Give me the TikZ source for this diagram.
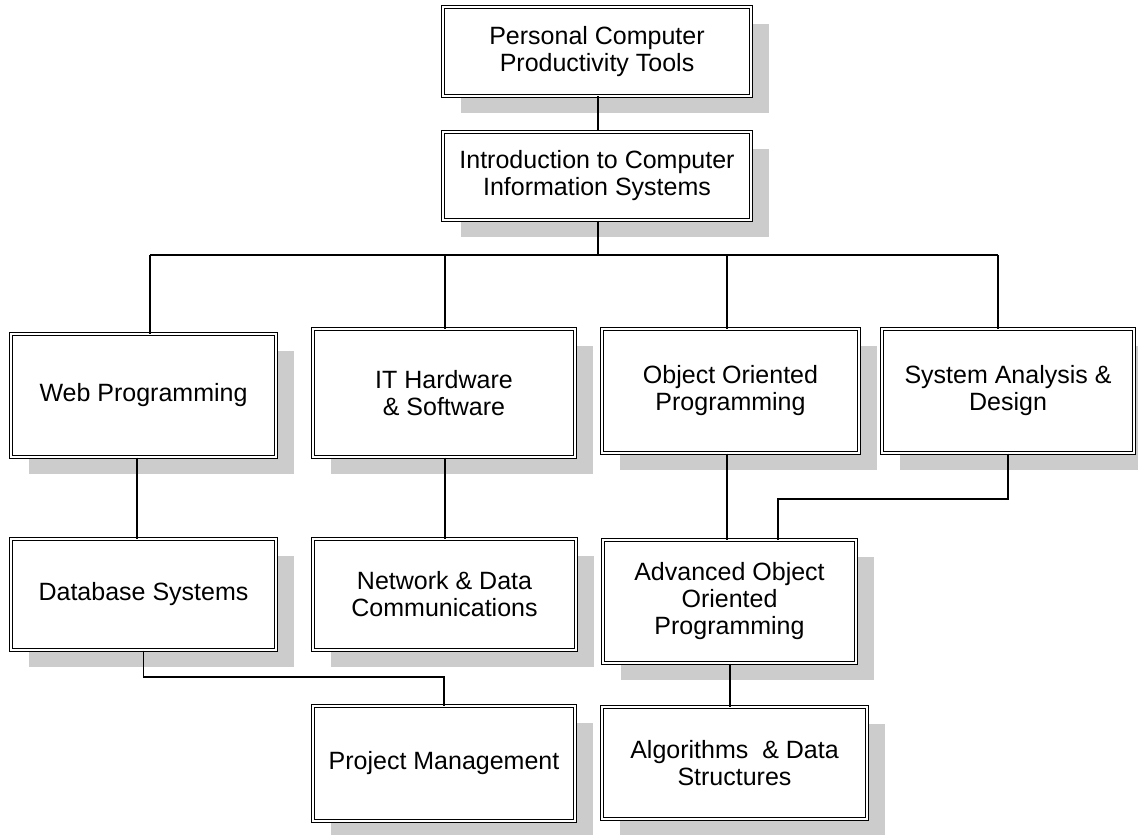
\documentclass[tikz,border=0pt]{standalone}
\usepackage{fontspec}
\setmainfont{Liberation Sans}
\usetikzlibrary{shadows,calc}
\definecolor{shadowgray}{RGB}{204,204,204}
\tikzset{
  course/.style={draw=black, line width=0.5pt, double=white, double distance=1pt,
    fill=white, inner sep=0pt, align=center,
    font=\fontsize{12.5pt}{13.5pt}\selectfont,
    drop shadow={shadow xshift=9pt, shadow yshift=-8.5pt, opacity=1, fill=shadowgray}},
  link/.style={draw=black, line width=0.8pt}
}
\begin{document}
\begin{tikzpicture}[x=0.5pt, y=-0.5pt]
\fill[white] (0,0) rectangle (1138,834);
\useasboundingbox (0,0) rectangle (1138,834);

\node[course, minimum width=154pt, minimum height=44.5pt] (pcpt) at (597,51.5) {Personal Computer\\Productivity Tools};
\node[course, minimum width=154pt, minimum height=44pt] (icis) at (597,176) {Introduction to Computer\\Information Systems};

\node[course, minimum width=132.5pt, minimum height=61.5pt] (web) at (143.5,395.5) {Web Programming};
\node[course, minimum width=131pt, minimum height=64pt] (it) at (444,393) {IT Hardware\\\& Software};
\node[course, minimum width=128.5pt, minimum height=62pt] (oo) at (730.5,391) {Object Oriented\\Programming};
\node[course, minimum width=126pt, minimum height=62pt] (sa) at (1008,391) {System Analysis \&\\Design};

\node[course, minimum width=132.5pt, minimum height=55.5pt] (db) at (143.5,594.5) {Database Systems};
\node[course, minimum width=131.5pt, minimum height=55.5pt] (ndc) at (444.5,594.5) {Network \& Data\\Communications};
\node[course, minimum width=126.5pt, minimum height=61.5pt] (aoop) at (729.5,601.5) {Advanced Object\\Oriented\\Programming};

\node[course, minimum width=131pt, minimum height=57.5pt] (pm) at (444,763.5) {Project Management};
\node[course, minimum width=132.5pt, minimum height=56pt] (alg) at (734.5,763) {Algorithms\ \ \& Data\\Structures};

\coordinate (busy) at (0,255);
\coordinate (y499) at (0,499);
\coordinate (y677) at (0,677);

\draw[link] ([xshift=0.5pt]pcpt.south) -- ([xshift=0.5pt]icis.north);
\draw[link] ([xshift=0.5pt]icis.south) -- ([xshift=0.5pt]icis.south |- busy);
\draw[link] ([xshift=3.25pt]web.north |- busy) -- ([xshift=-5pt]sa.north |- busy);
\draw[link] ([xshift=3.25pt]web.north) -- ([xshift=3.25pt]web.north |- busy);
\draw[link] ([xshift=0.5pt]it.north) -- ([xshift=0.5pt]it.north |- busy);
\draw[link] ([xshift=-1.75pt]oo.north) -- ([xshift=-1.75pt]oo.north |- busy);
\draw[link] ([xshift=-5pt]sa.north) -- ([xshift=-5pt]sa.north |- busy);

\draw[link] ([xshift=-3.25pt]web.south) -- ([xshift=-3.25pt]web.south |- db.north);
\draw[link] ([xshift=0.5pt]it.south) -- ([xshift=0.5pt]it.south |- ndc.north);
\draw[link] ([xshift=-1.75pt]oo.south) -- ([xshift=-1.75pt]oo.south |- aoop.north);
\draw[link] (sa.south) -- (sa.south |- y499) -| ([xshift=24.25pt]aoop.north);
\draw[link] (db.south) -- (db.south |- y677) -| (pm.north);
\draw[link] ([xshift=0.25pt]aoop.south) -- ([xshift=0.25pt]aoop.south |- alg.north);
\end{tikzpicture}
\end{document}
